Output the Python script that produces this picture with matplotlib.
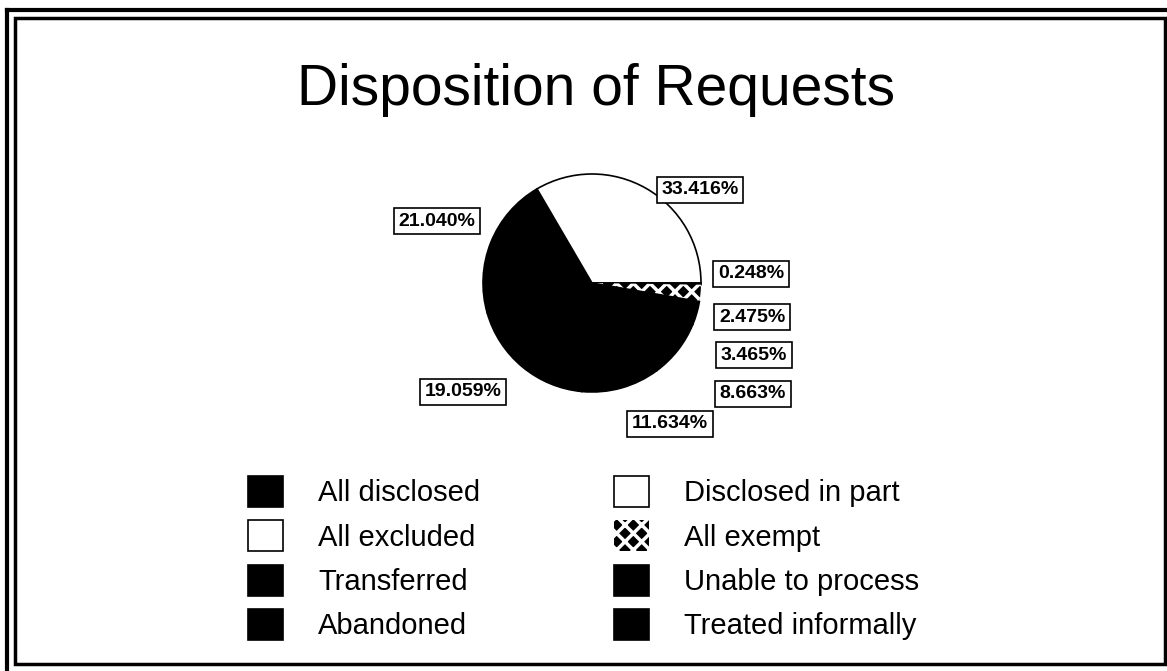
import matplotlib
matplotlib.use("Agg")
import matplotlib.pyplot as plt
from matplotlib.lines import Line2D
from matplotlib.patches import Rectangle

# ---- data ----
categories = ["All disclosed", "Disclosed in part", "All excluded", "All exempt",
              "Transferred", "Unable to process", "Abandoned", "Treated informally"]
percentages = [21.040, 33.416, 0.248, 2.475, 3.465, 8.663, 11.634, 19.059]
label_texts = ["21.040%", "33.416%", "0.248%", "2.475%", "3.465%", "8.663%", "11.634%", "19.059%"]
title_text = "Disposition of Requests"

# ---- styles / layout ----
fill_colors = ["black", "white", "white", "black", "black", "black", "black", "black"]
hatches = [None, None, None, "xx", None, None, None, None]
# label box centres in pixels (x from left, y from top)
label_pos = [(437, 221), (700, 190), (751, 274), (752, 317), (754, 355),
             (753, 394), (670, 424), (463, 392)]

W, H = 1167, 671
plt.rcParams["font.family"] = ["Liberation Sans", "DejaVu Sans"]
plt.rcParams["hatch.linewidth"] = 2.5

fig = plt.figure(figsize=(W / 100, H / 100), dpi=100)
ax = fig.add_axes([0, 0, 1, 1])

def Y(y):
    return H - y

start = (percentages[0] + percentages[1]) * 3.6
wedges, _ = ax.pie(percentages, colors=fill_colors, startangle=start, counterclock=False,
                   center=(592, Y(283)), radius=109,
                   wedgeprops=dict(edgecolor="black", linewidth=1.2))
for w, h in zip(wedges, hatches):
    if h:
        w.set_hatch(h)
        w.set_edgecolor("white")
        w.set_linewidth(0)

ax.set_xlim(0, W)
ax.set_ylim(0, H)
ax.set_aspect("auto")
ax.axis("off")

# percentage labels
for txt, (x, y) in zip(label_texts, label_pos):
    ax.text(x, Y(y), txt, ha="center", va="center", fontsize=14, fontweight="bold",
            bbox=dict(boxstyle="square,pad=0.25", facecolor="white", edgecolor="black", linewidth=1.2))

# title
ax.text(596, Y(90), title_text, ha="center", va="center", fontsize=41)

# legend (two columns, row-major order as in the original)
order = [0, 2, 4, 6, 1, 3, 5, 7]
leg = ax.legend([wedges[i] for i in order], [categories[i] for i in order],
                ncol=2, loc="upper left", bbox_to_anchor=(248, Y(476)),
                bbox_transform=ax.transData, frameon=False, fontsize=21,
                borderpad=0, borderaxespad=0, handlelength=1.2, handleheight=1.25,
                handletextpad=1.2, labelspacing=0.45, columnspacing=4.6)

# double frame
ax.add_line(Line2D([7, 1167], [Y(10), Y(10)], color="black", lw=3))
ax.add_line(Line2D([7, 7], [Y(10), 0], color="black", lw=3))
ax.add_patch(Rectangle((15, Y(664)), 1150, 664 - 18, fill=False, edgecolor="black", lw=2.5))

fig.savefig("out.png", dpi=100, facecolor="white")
